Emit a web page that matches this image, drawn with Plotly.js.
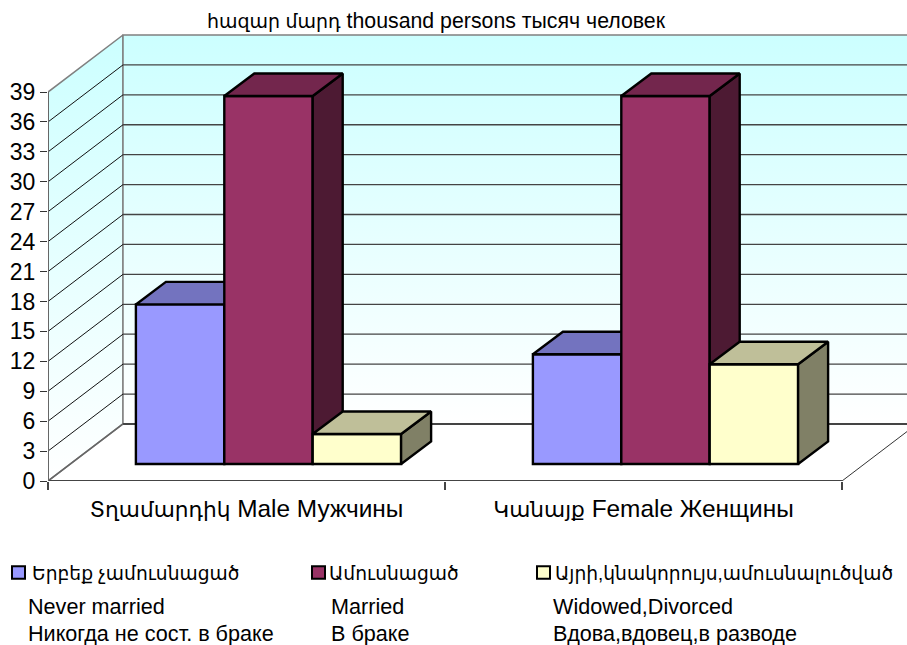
<!DOCTYPE html>
<html><head><meta charset="utf-8">
<script src="https://cdn.plot.ly/plotly-3.0.1.min.js"></script>
<style>html,body{margin:0;padding:0;background:#fff}#c{width:907px;height:645px}</style>
</head><body><div id="c"></div>
<script>
const categories = ['Տղամարդիկ Male Мужчины', 'Կանայք Female Женщины'];
const seriesArm = ['Երբեք չամուսնացած', 'Ամուսնացած', 'Այրի,կնակորույս,ամուսնալուծված'];
const seriesEng = ['Never married', 'Married', 'Widowed,Divorced'];
const seriesRus = ['Никогда не сост. в браке', 'В браке', 'Вдова,вдовец,в разводе'];
const neverMarried = [16, 11];
const married = [36.9, 36.9];
const widowedDivorced = [3, 10];
const yTicks = [0,3,6,9,12,15,18,21,24,27,30,33,36,39];
const chartTitle = 'հազար մարդ thousand persons тысяч человек';

const W=907,H=645,L=48,T=32,B=480.7,pxX=397,pxY=(B-92)/39;
const xMin=-0.5, xMax=xMin+(W-L)/pxX, yMax=(B-T)/pxY;
const ux=p=>p/pxX, uy=p=>p/pxY;
const wallDx=ux(75), wallDy=uy(57);
const barFrontDx=ux(22), barFrontDy=uy(17);
const barDepthX=ux(30), barDepthY=uy(22.5);
const barW=ux(88.4);
const font='"Liberation Sans", Arial, "DejaVu Sans", sans-serif';
const vals=[neverMarried,married,widowedDivorced];
const front=['#9999FF','#993366','#FFFFCC'];
const top_=['#7373BF','#73264D','#BFBF99'];
const side=['#4D4D80','#4D1A33','#808066'];
const grad={type:'vertical',colorscale:[[0,'#FFFFFF'],[1,'#CCFFFF']]};
const xLast=xMin+categories.length;
// Armenian runs are set smaller than Latin/Cyrillic so widths match the original
const mixed=(s,nArm,armSize)=>{const w=s.split(' ');return '<span style="font-size:'+armSize+'px">'+w.slice(0,nArm).join(' ')+'</span> '+w.slice(nArm).join(' ');};

const traces=[];
// walls
traces.push({type:'scatter',mode:'lines',x:[xMin,xMin,xMin+wallDx,xMin+wallDx,xMin],y:[0,39,39+wallDy,wallDy,0],
  fill:'toself',fillgradient:grad,line:{color:'#808080',width:1.5},hoverinfo:'skip',showlegend:false});
traces.push({type:'scatter',mode:'lines',x:[xMin+wallDx,xLast+wallDx,xLast+wallDx,xMin+wallDx,xMin+wallDx],y:[wallDy,wallDy,39+wallDy,39+wallDy,wallDy],
  fill:'toself',fillgradient:grad,line:{color:'#808080',width:1.5},hoverinfo:'skip',showlegend:false});
// gridlines on walls
const gx=[],gy=[],bx=[],by=[];
yTicks.slice(1,-1).forEach(v=>{gx.push(xMin,xMin+wallDx,null);gy.push(v,v+wallDy,null);
  bx.push(xMin+wallDx,xLast+wallDx,null);by.push(v+wallDy,v+wallDy,null);});
traces.push({type:'scatter',mode:'lines',x:gx,y:gy,line:{color:'#111',width:1},hoverinfo:'skip',showlegend:false});
traces.push({type:'scatter',mode:'lines',x:bx,y:by,line:{color:'#444',width:1.3},hoverinfo:'skip',showlegend:false});
traces.push({type:'scatter',mode:'lines',x:[xMin+wallDx,xLast+wallDx],y:[wallDy,wallDy],line:{color:'#444',width:2},hoverinfo:'skip',showlegend:false});
// floor edges and axes
traces.push({type:'scatter',mode:'lines',x:[xLast,xLast+wallDx],y:[0,wallDy],line:{color:'#333',width:1},hoverinfo:'skip',showlegend:false});
traces.push({type:'scatter',mode:'lines',x:[xMin,xMin+wallDx],y:[0,wallDy],line:{color:'#666',width:1.5},hoverinfo:'skip',showlegend:false});
traces.push({type:'scatter',mode:'lines',x:[xMin,xLast],y:[0,0],line:{color:'#444',width:2},hoverinfo:'skip',showlegend:false,cliponaxis:false});
traces.push({type:'scatter',mode:'lines',x:[xMin,xMin],y:[0,39],line:{color:'#666',width:2},hoverinfo:'skip',showlegend:false,cliponaxis:false});

// bars, one overlay subplot per series so faces paint front-to-back
vals.forEach((v,s)=>{
  const xa='x'+(s+2), ya='y'+(s+2);
  const cx=i=>i+barFrontDx+(s-1)*barW;
  traces.push({type:'bar',xaxis:xa,yaxis:ya,name:seriesEng[s],x:v.map((_,i)=>cx(i)),y:v,base:v.map(()=>barFrontDy),width:barW,
    marker:{color:front[s],line:{color:'#000',width:2.4}},showlegend:false});
  const tx=[],ty=[],sx=[],sy=[];
  v.forEach((h,i)=>{
    const l=cx(i)-barW/2,r=cx(i)+barW/2,b=barFrontDy,t=barFrontDy+h;
    tx.push(l,r,r+barDepthX,l+barDepthX,l,null);ty.push(t,t,t+barDepthY,t+barDepthY,t,null);
    sx.push(r,r+barDepthX,r+barDepthX,r,r,null);sy.push(b,b+barDepthY,t+barDepthY,t,b,null);
  });
  traces.push({type:'scatter',xaxis:xa,yaxis:ya,mode:'lines',x:sx,y:sy,fill:'toself',fillcolor:side[s],line:{color:'#000',width:2.4},hoverinfo:'skip',showlegend:false});
  traces.push({type:'scatter',xaxis:xa,yaxis:ya,mode:'lines',x:tx,y:ty,fill:'toself',fillcolor:top_[s],line:{color:'#000',width:2.4},hoverinfo:'skip',showlegend:false});
});

const px=p=>(p-L)/(W-L), py=p=>(B-p)/(B-T);
const hidden=()=>({visible:false,fixedrange:true});
const legX=[12,312,537], armX=[30,327,552.5], txtX=[26,328.5,551], lineY=[573,606.5,633.5];
const annotations=[], shapes=[];
annotations.push({xref:'paper',yref:'paper',x:px(436),y:py(21),text:mixed(chartTitle,2,19),showarrow:false,xanchor:'center',yanchor:'middle',font:{family:font,size:21.3,color:'#000'}});
seriesArm.forEach((n,s)=>{
  shapes.push({type:'rect',xref:'paper',yref:'paper',x0:px(legX[s]),x1:px(legX[s]+13),y0:py(566),y1:py(578.5),fillcolor:front[s],line:{color:'#000',width:2}});
  annotations.push({xref:'paper',yref:'paper',x:px(armX[s]),y:py(lineY[0]),text:n,showarrow:false,xanchor:'left',yanchor:'middle',font:{family:font,size:18.7,color:'#000'}});
  annotations.push({xref:'paper',yref:'paper',x:px(txtX[s]),y:py(lineY[1]),text:seriesEng[s],showarrow:false,xanchor:'left',yanchor:'middle',font:{family:font,size:21.6,color:'#000'}});
  annotations.push({xref:'paper',yref:'paper',x:px(txtX[s]),y:py(lineY[2]),text:seriesRus[s],showarrow:false,xanchor:'left',yanchor:'middle',font:{family:font,size:21.6,color:'#000'}});
});
const layout={
  width:W,height:H,autosize:false,showlegend:false,barmode:'overlay',
  margin:{l:L,r:0,t:T,b:H-B,pad:0},paper_bgcolor:'#fff',plot_bgcolor:'#fff',
  font:{family:font,color:'#000'},
  xaxis:{range:[xMin,xMax],tickmode:'array',tickvals:categories.map((_,i)=>i),ticktext:categories.map(c=>mixed(c,1,21.7)),ticks:'',showgrid:false,zeroline:false,showline:false,
    tickfont:{family:font,size:24.4,color:'#000'},fixedrange:true,ticklabelstandoff:11,
    minor:{ticks:'outside',tickmode:'array',tickvals:[xMin,xMin+1,xMin+2],ticklen:8,tickcolor:'#444',tickwidth:1.5,showgrid:false}},
  yaxis:{range:[0,yMax],tickmode:'array',tickvals:yTicks,ticks:'outside',ticklen:7,tickcolor:'#333',tickwidth:1,showgrid:false,zeroline:false,showline:false,
    tickfont:{family:font,size:23,color:'#000'},fixedrange:true},
  annotations,shapes
};
[2,3,4].forEach(n=>{
  layout['xaxis'+n]={...hidden(),overlaying:'x',range:[xMin,xMax],anchor:'y'+n};
  layout['yaxis'+n]={...hidden(),overlaying:'y',range:[0,yMax],anchor:'x'+n};
});
Plotly.newPlot('c',traces,layout,{displayModeBar:false,staticPlot:true});
</script></body></html>
